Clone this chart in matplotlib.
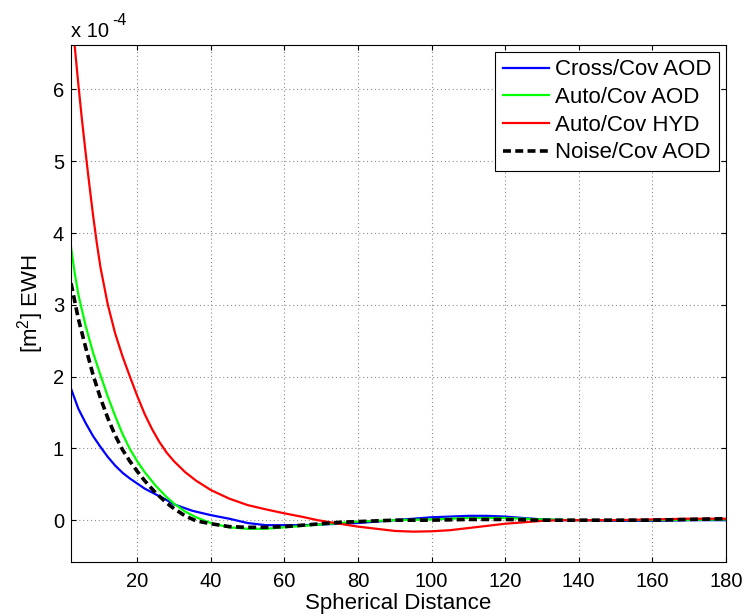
import matplotlib
matplotlib.use("Agg")
import matplotlib.pyplot as plt

plt.rcParams.update({
    "font.family": "Liberation Sans",
    "font.size": 14.5,
    "xtick.direction": "in",
    "ytick.direction": "in",
    "xtick.top": True,
    "ytick.right": True,
    "xtick.major.pad": 7,
    "ytick.major.pad": 5,
})

# covariance curves, values in units of 1e-4 m^2 EWH
cross_x = [2, 4, 6, 8, 10, 12, 14, 16, 18, 20, 22, 25, 28, 30, 35, 40, 45, 50, 55, 60,
           65, 70, 75, 80, 85, 90, 95, 100, 105, 110, 115, 120, 125, 130, 135, 140,
           150, 160, 170, 180]
cross_aod = [1.83, 1.55, 1.35, 1.17, 1.02, 0.88, 0.76, 0.66, 0.58, 0.51, 0.44, 0.36,
             0.28, 0.22, 0.13, 0.07, 0.02, -0.04, -0.07, -0.07, -0.07, -0.06, -0.05,
             -0.04, -0.02, 0.0, 0.02, 0.04, 0.05, 0.06, 0.06, 0.05, 0.03, 0.01, 0.0,
             0.0, -0.01, -0.01, 0.0, 0.0]

auto_x = [2, 3, 4, 6, 8, 10, 12, 14, 16, 18, 20, 22, 25, 28, 30, 33, 36, 40, 45, 50,
          55, 60, 65, 70, 75, 80, 90, 100, 110, 120, 130, 140, 160, 180]
auto_aod = [3.80, 3.44, 3.14, 2.70, 2.33, 2.02, 1.72, 1.45, 1.20, 0.99, 0.82, 0.67,
            0.48, 0.32, 0.23, 0.12, 0.04, -0.04, -0.10, -0.12, -0.12, -0.10, -0.08,
            -0.06, -0.04, -0.02, 0.0, 0.01, 0.03, 0.03, 0.01, 0.0, 0.0, 0.01]
noise_aod = [3.30, 3.05, 2.80, 2.40, 2.02, 1.70, 1.42, 1.18, 0.98, 0.82, 0.68, 0.55,
             0.38, 0.24, 0.16, 0.06, -0.01, -0.05, -0.09, -0.10, -0.10, -0.09, -0.07,
             -0.05, -0.03, -0.02, 0.0, 0.0, 0.01, 0.01, 0.0, 0.0, 0.0, 0.02]

hyd_x = [2, 3, 4, 5, 6, 7, 8, 9, 10, 12, 14, 16, 18, 20, 22, 24, 26, 28, 30, 33, 36,
         40, 45, 50, 55, 60, 65, 69, 75, 80, 85, 90, 95, 100, 105, 110, 115, 120, 125,
         130, 135, 140, 150, 160, 170, 180]
auto_hyd = [7.20, 6.60, 6.06, 5.56, 5.10, 4.66, 4.24, 3.86, 3.52, 3.00, 2.60, 2.28,
            2.00, 1.73, 1.48, 1.27, 1.09, 0.94, 0.82, 0.67, 0.55, 0.42, 0.30, 0.21,
            0.15, 0.095, 0.045, 0.0, -0.05, -0.09, -0.12, -0.15, -0.16, -0.155, -0.14,
            -0.11, -0.08, -0.05, -0.03, -0.01, 0.0, 0.0, 0.0, 0.01, 0.02, 0.02]

fig = plt.figure(figsize=(7.56, 6.16), dpi=100)
ax = fig.add_axes([0.094, 0.088, 0.866, 0.839])

ax.plot(cross_x, cross_aod, color="#0000ff", lw=1.6, label="Cross/Cov AOD")
ax.plot(auto_x, auto_aod, color="#00ff00", lw=1.6, label="Auto/Cov AOD")
ax.plot(hyd_x, auto_hyd, color="#ff0000", lw=1.6, label="Auto/Cov HYD")
ax.plot(auto_x, noise_aod, color="black", lw=2.6, dashes=(2.2, 1.2),
        label="Noise/Cov AOD")

ax.set_xlim(2, 180)
ax.set_ylim(-0.58, 6.62)
ax.set_xticks(range(20, 181, 20))
ax.set_yticks(range(0, 7))
ax.grid(True, linestyle=(0, (1, 2.5)), color="#8c8c8c", linewidth=0.8)
for s in ax.spines.values():
    s.set_linewidth(0.8)

ax.set_xlabel("Spherical Distance", fontsize=16, labelpad=2)
ax.set_ylabel("[m$^\\mathregular{2}$] EWH", fontsize=16, labelpad=5)

# exponent label above the y axis
fig.text(0.094, 0.94, "x 10", fontsize=14.5, ha="left", va="baseline")
fig.text(0.148, 0.959, "-4", fontsize=11.5, ha="left", va="baseline")

leg = ax.legend(loc="upper right", fancybox=False, edgecolor="black",
                framealpha=1, borderaxespad=0.3, handlelength=2.1,
                handletextpad=0.25, labelspacing=0.3, borderpad=0.35,
                fontsize=16)
leg.get_frame().set_linewidth(0.8)

fig.savefig("out.png", dpi=100)
